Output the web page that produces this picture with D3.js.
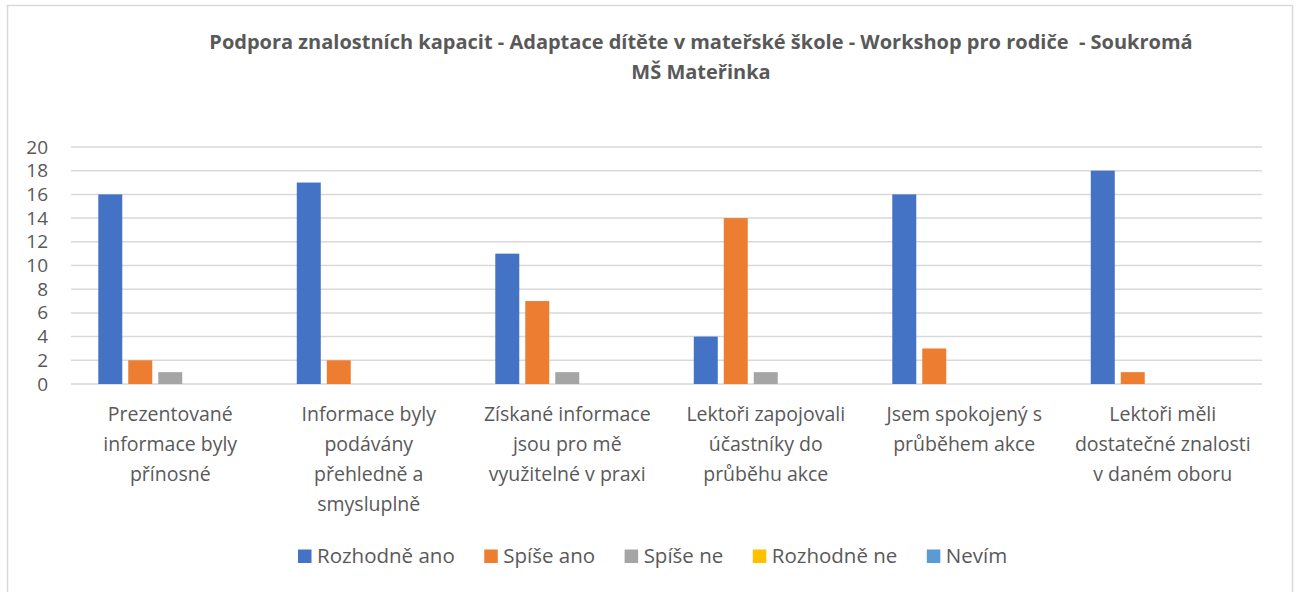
<!DOCTYPE html>
<html>
<head>
<meta charset="utf-8">
<script src="https://cdn.jsdelivr.net/npm/d3@7"></script>
<style>
  body { margin: 0; background: #fff; }
  text { font-family: "Open Sans", "Noto Sans", sans-serif; }
</style>
</head>
<body>
<svg id="chart" width="1298" height="592"></svg>
<script>
// --- data ---
const categories = [
  'Prezentované informace byly přínosné',
  'Informace byly podávány přehledně a smysluplně',
  'Získané informace jsou pro mě využitelné v praxi',
  'Lektoři zapojovali účastníky do průběhu akce',
  'Jsem spokojený s průběhem akce',
  'Lektoři měli dostatečné znalosti v daném oboru'
];
const categoryLines = [
  ['Prezentované', 'informace byly', 'přínosné'],
  ['Informace byly', 'podávány', 'přehledně a', 'smysluplně'],
  ['Získané informace', 'jsou pro mě', 'využitelné v praxi'],
  ['Lektoři zapojovali', 'účastníky do', 'průběhu akce'],
  ['Jsem spokojený s', 'průběhem akce'],
  ['Lektoři měli', 'dostatečné znalosti', 'v daném oboru']
];
const seriesNames = ['Rozhodně ano', 'Spíše ano', 'Spíše ne', 'Rozhodně ne', 'Nevím'];
const rozhodneAno = [16, 17, 11, 4, 16, 18];
const spiseAno = [2, 2, 7, 14, 3, 1];
const spiseNe = [1, 0, 1, 1, 0, 0];
const rozhodneNe = [0, 0, 0, 0, 0, 0];
const nevim = [0, 0, 0, 0, 0, 0];
const yTicks = [0, 2, 4, 6, 8, 10, 12, 14, 16, 18, 20];
const titleLines = ['Podpora znalostních kapacit - Adaptace dítěte v mateřské škole - Workshop pro rodiče  - Soukromá', 'MŠ Mateřinka'];

const seriesValues = [rozhodneAno, spiseAno, spiseNe, rozhodneNe, nevim];
const colors = ['#4472C4', '#ED7D31', '#A5A5A5', '#FFC000', '#5B9BD5'];

const svg = d3.select('#chart');
const textColor = '#595959';

// outer border
svg.append('rect')
  .attr('x', 7.5).attr('y', 5.5)
  .attr('width', 1285).attr('height', 600)
  .attr('fill', '#fff').attr('stroke', '#D9D9D9').attr('stroke-width', 1.5);

// title
svg.append('g').selectAll('text')
  .data(titleLines)
  .enter().append('text')
  .attr('x', 701)
  .attr('y', (d, i) => 49 + i * 30)
  .attr('text-anchor', 'middle')
  .attr('font-size', '20px')
  .attr('font-weight', 'bold')
  .attr('fill', textColor)
  .style('white-space', 'pre')
  .text(d => d);

const plot = {left: 71, right: 1262, top: 147, bottom: 384};

const x0 = d3.scaleBand().domain(categories).range([plot.left, plot.right]).padding(0);
const x1 = d3.scaleBand().domain(seriesNames).range([0, x0.bandwidth()])
  .paddingInner(0.2).paddingOuter(0.91);
const y = d3.scaleLinear().domain([0, 20]).range([plot.bottom, plot.top]);

// gridlines
svg.append('g').selectAll('line')
  .data(yTicks)
  .enter().append('line')
  .attr('x1', plot.left).attr('x2', plot.right)
  .attr('y1', d => y(d)).attr('y2', d => y(d))
  .attr('stroke', '#D9D9D9').attr('stroke-width', 1.5);

// y axis labels
const yAxis = svg.append('g')
  .attr('transform', `translate(${plot.left - 15},0)`)
  .call(d3.axisLeft(y).tickValues(yTicks).tickSize(0).tickPadding(8));
yAxis.select('.domain').remove();
yAxis.selectAll('text')
  .attr('font-size', '19px')
  .attr('fill', textColor)
  .attr('font-family', '"Liberation Sans", sans-serif');

// bars
const rows = categories.map((c, i) => ({cat: c, values: seriesNames.map((s, j) => ({key: s, value: seriesValues[j][i], color: colors[j]}))}));
svg.append('g').selectAll('g')
  .data(rows)
  .enter().append('g')
  .attr('transform', d => `translate(${x0(d.cat)},0)`)
  .selectAll('rect')
  .data(d => d.values.filter(v => v.value > 0))
  .enter().append('rect')
  .attr('x', d => x1(d.key))
  .attr('y', d => y(d.value))
  .attr('width', x1.bandwidth())
  .attr('height', d => y(0) - y(d.value))
  .attr('fill', d => d.color);

// category labels
const catG = svg.append('g').selectAll('g')
  .data(categories)
  .enter().append('g');
catG.selectAll('text')
  .data((d, i) => categoryLines[i].map(l => ({line: l, cat: d})))
  .enter().append('text')
  .attr('x', d => x0(d.cat) + x0.bandwidth() / 2)
  .attr('y', (d, i) => 421 + i * 30)
  .attr('text-anchor', 'middle')
  .attr('font-size', '19.5px')
  .attr('fill', textColor)
  .text(d => d.line);

// legend
const legend = svg.append('g').attr('transform', 'translate(298,556)');
let lx = 0;
seriesNames.forEach((s, i) => {
  const item = legend.append('g').attr('transform', `translate(${lx},0)`);
  item.append('rect').attr('x', 0).attr('y', -6.5).attr('width', 13.5).attr('height', 13.5).attr('fill', colors[i]);
  const t = item.append('text').attr('x', 19).attr('y', 7)
    .attr('font-size', '20.5px').attr('fill', textColor).text(s);
  lx += 19 + t.node().getComputedTextLength() + 29.5;
});
</script>
</body>
</html>
